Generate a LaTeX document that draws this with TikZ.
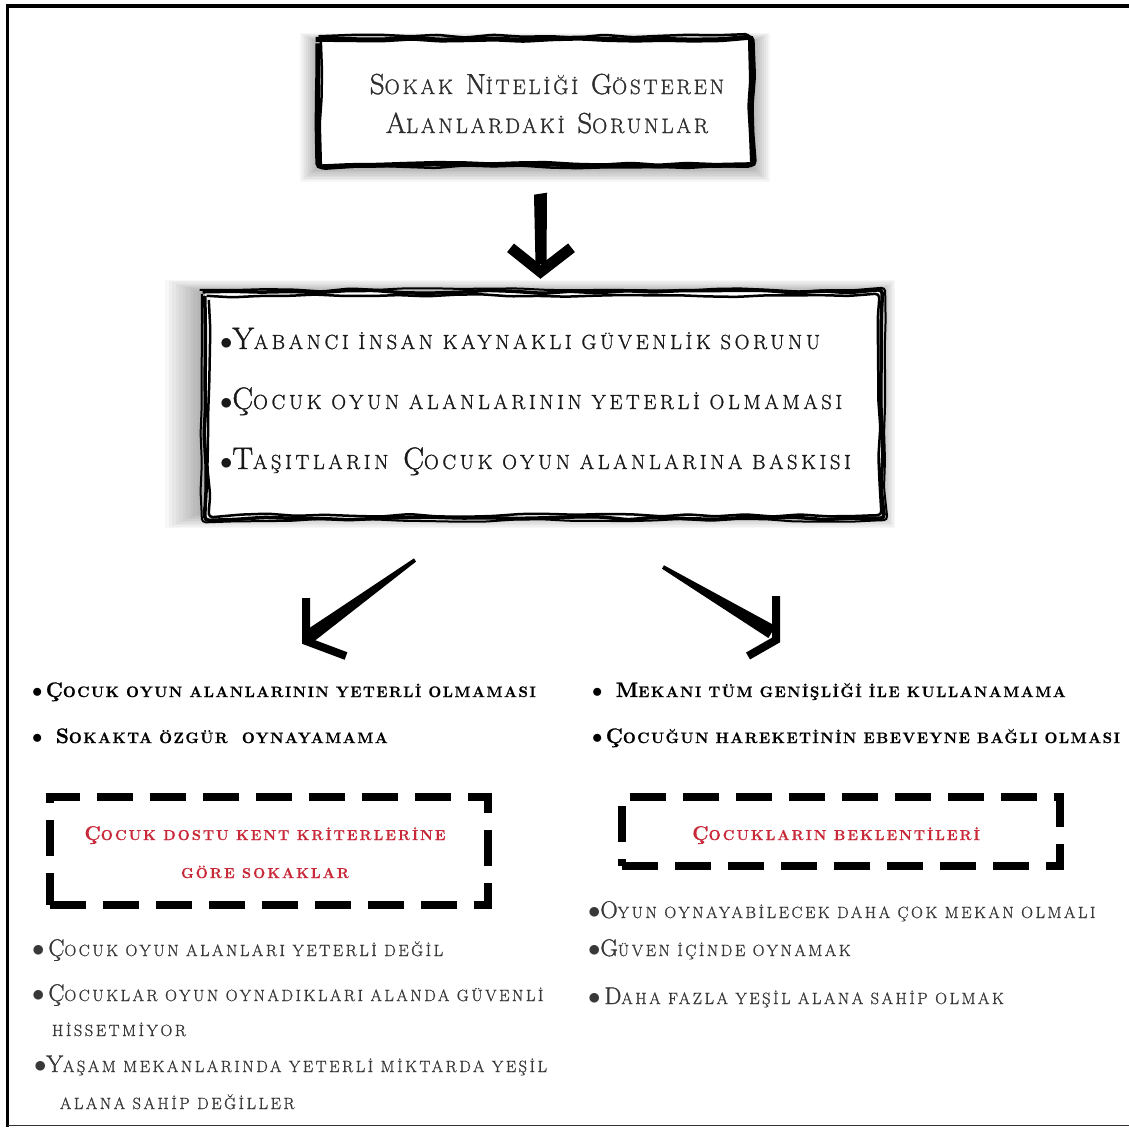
\documentclass[tikz,border=0pt]{standalone}
\usepackage{fontspec}
\setmainfont{Latin Modern Roman}
\usetikzlibrary{decorations.pathmorphing,calc}
\makeatletter
\newcommand\sscratio{0.72}
\newcommand\ssc[1]{{\fontsize{\fpeval{\sscratio*\f@size}}{\f@baselineskip}\selectfont #1}}
\makeatother
\definecolor{redtxt}{RGB}{200,40,55}
\tikzset{
  txt/.style={anchor=base west,inner sep=0pt,outer sep=0pt},
  ttlfont/.style={txt,anchor=base,text=black!82,font=\fontsize{29}{39}\selectfont\addfontfeatures{LetterSpace=14,FakeBold=1.2}\renewcommand\sscratio{0.72}},
  midfont/.style={txt,text=black!90,font=\fontsize{31}{39}\selectfont\addfontfeatures{LetterSpace=18,FakeBold=1.2}\renewcommand\sscratio{0.66}},
  boldfont/.style={txt,text=black,font=\fontsize{21}{30}\selectfont\bfseries\addfontfeatures{LetterSpace=10,FakeBold=1}\renewcommand\sscratio{0.72}},
  redfont/.style={txt,anchor=base,text=redtxt,font=\fontsize{20}{30}\selectfont\bfseries\addfontfeatures{LetterSpace=14,FakeBold=0.6}\renewcommand\sscratio{0.72}},
  lowfont/.style={txt,text=black!78,font=\fontsize{24}{30}\selectfont\addfontfeatures{LetterSpace=16,FakeBold=1.2}\renewcommand\sscratio{0.68}},
  sketch/.style={line width=#1,decorate,decoration={random steps,segment length=28pt,amplitude=1.6pt},rounded corners=4pt},
  dashbox/.style={draw,line width=8pt,dash pattern=on 36pt off 17pt,inner sep=0pt},
  brush/.style={fill=black},
  headstroke/.style={line width=8pt,line join=miter,line cap=butt}
}
\begin{document}
\begin{tikzpicture}[x=1pt,y=-1pt]
\useasboundingbox (0,0) rectangle (1129,1127);
\fill[white] (0,0) rectangle (1129,1127);
% outer frame
\draw[line width=3.5pt] (7.5,1127) -- (7.5,6) -- (1129,6);
\draw[line width=1.5pt,black!80] (7.5,1125.5) -- (1129,1125.5);

% ---------- title box ----------
\foreach \i in {0,...,9}{
  \fill[black,opacity=0.035] (300+2*\i,33+1*\i) rectangle (770-2*\i,182-1.6*\i);
}
\node[minimum width=430pt,minimum height=125pt,inner sep=0pt,fill=white] (titlebox) at (535,102) {};
\pgfmathsetseed{11}
\draw[sketch=5pt] ($(titlebox.north west)+(-2,0)$) rectangle ($(titlebox.south east)+(2,0)$);
\draw[sketch=2.5pt] ($(titlebox.north west)+(1,-3)$) rectangle ($(titlebox.south east)+(-1,2)$);
\node[ttlfont] (t1) at (547,94) {S\ssc{OKAK} N\ssc{İTELİĞİ} G\ssc{ÖSTEREN}};
\node[ttlfont] (t2) at (547,133) {A\ssc{LANLARDAKİ} S\ssc{ORUNLAR}};

% ---------- middle box ----------
\foreach \i in {0,...,11}{
  \fill[black,opacity=0.03] (165+3.5*\i,280+1.2*\i) rectangle (895-1.5*\i,528-1.5*\i);
}
\node[minimum width=677pt,minimum height=226pt,inner sep=0pt,fill=white] (midbox) at (543.5,405) {};
\draw[sketch=3.5pt] ($(midbox.north west)+(0,0)$) rectangle ($(midbox.south east)+(0,0)$);
\draw[sketch=2.5pt] ($(midbox.north west)+(4,4)$) rectangle ($(midbox.south east)+(-3,-3)$);
\draw[sketch=2pt] ($(midbox.north west)+(-3,-2)$) rectangle ($(midbox.south east)+(3,2)$);
\node[midfont] (m1) at (220,349) {$\bullet$Y\ssc{ABANCI İNSAN KAYNAKLI GÜVENLİK SORUNU}};
\node[midfont] (m2) at (220,409) {$\bullet$Ç\ssc{OCUK OYUN ALANLARININ YETERLİ OLMAMASI}};
\node[midfont] (m3) at (220,469) {$\bullet$T\ssc{AŞITLARIN} Ç\ssc{OCUK OYUN ALANLARINA BASKISI}};

% ---------- arrows ----------
\coordinate (d1) at ($(titlebox.south)+(5,30)$);
\coordinate (d2) at ($(midbox.north)+(-3,-20)$);
\fill[brush] ($(d1)+(-6,0)$) -- ($(d1)+(7,-2)$) -- ($(d2)+(6,-8)$) -- ($(d2)+(-5,-8)$) -- cycle;
\draw[headstroke,line width=11pt] ($(d2)+(-30,-24)$) -- (d2) -- ($(d2)+(31,-24)$);

% left diagonal
\fill[brush] (416,561.6) -- (311,643.7) -- (303,632.3) -- (414,558.4) -- cycle;
\draw[headstroke] (306,598) -- (306,641) -- (346,656);
% right diagonal
\fill[brush] (662,568.7) -- (768.4,638) -- (775.6,626) -- (664,565.3) -- cycle;
\draw[headstroke] (776,596) -- (776,640) -- (748,656);

% ---------- bold lists ----------
\node[boldfont] (l1) at (32,697) {$\bullet$\,Ç\ssc{OCUK OYUN ALANLARININ YETERLİ OLMAMASI}};
\node[boldfont] (l2) at (32,743) {$\bullet$\,\ S\ssc{OKAKTA ÖZGÜR\ \ OYNAYAMAMA}};
\node[boldfont] (r1) at (592,697) {$\bullet$\,\ M\ssc{EKANI TÜM GENİŞLİĞİ İLE KULLANAMAMA}};
\node[boldfont] (r2) at (592,743) {$\bullet$\,Ç\ssc{OCUĞUN HAREKETİNİN EBEVEYNE BAĞLI OLMASI}};

% ---------- dashed boxes ----------
\node[dashbox,minimum width=438pt,minimum height=108pt] (dashL) at (269,851) {};
\node[redfont] (dl1) at (265,840) {Ç\ssc{OCUK DOSTU KENT KRİTERLERİNE}};
\node[redfont] (dl2) at (265,878) {\ssc{GÖRE SOKAKLAR}};
\node[dashbox,minimum width=438pt,minimum height=69pt] (dashR) at (841,831.5) {};
\node[redfont] (dr1) at (836,840) {Ç\ssc{OCUKLARIN BEKLENTİLERİ}};

% ---------- lower lists ----------
\node[lowfont] (b1) at (32,956) {$\bullet$\,Ç\ssc{OCUK OYUN ALANLARI YETERLİ DEĞİL}};
\node[lowfont] (b2) at (32,1001) {$\bullet$\,Ç\ssc{OCUKLAR OYUN OYNADIKLARI ALANDA GÜVENLİ}};
\node[lowfont] (b3) at (52,1036) {\ssc{HİSSETMİYOR}};
\node[lowfont] (b4) at (34,1072) {$\bullet$Y\ssc{AŞAM MEKANLARINDA YETERLİ MİKTARDA YEŞİL}};
\node[lowfont] (b5) at (60,1109) {\ssc{ALANA SAHİP DEĞİLLER}};

\node[lowfont] (c1) at (588,918) {$\bullet$O\ssc{YUN OYNAYABİLECEK DAHA ÇOK MEKAN OLMALI}};
\node[lowfont] (c2) at (588,956) {$\bullet$G\ssc{ÜVEN İÇİNDE OYNAMAK}};
\node[lowfont] (c3) at (588,1004) {$\bullet$\,D\ssc{AHA FAZLA YEŞİL ALANA SAHİP OLMAK}};
\end{tikzpicture}
\end{document}
